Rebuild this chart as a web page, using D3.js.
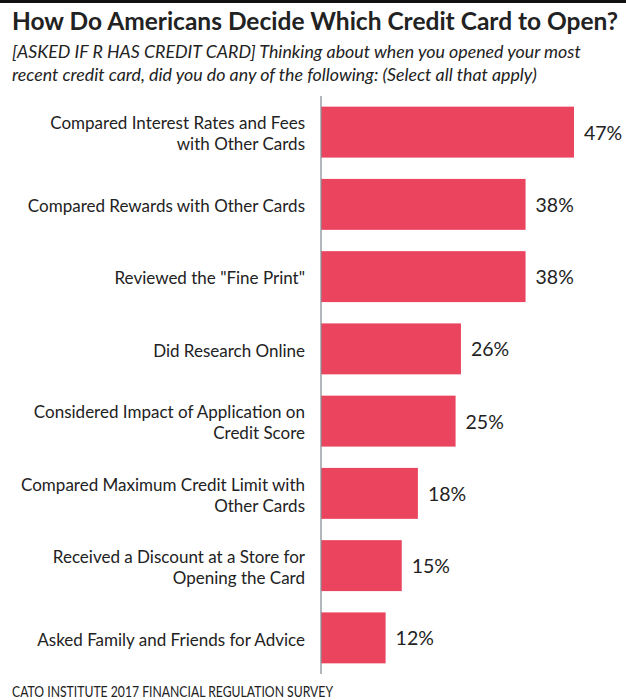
<!DOCTYPE html>
<html>
<head>
<meta charset="utf-8">
<script src="https://cdn.jsdelivr.net/npm/d3@7"></script>
<style>
  body { margin: 0; background: #fff; }
  text { font-family: Lato, "Open Sans", sans-serif; fill: #222; }
</style>
</head>
<body>
<svg id="chart"></svg>
<script>
// data
var categories = [
  ["Compared Interest Rates and Fees", "with Other Cards"],
  ["Compared Rewards with Other Cards"],
  ["Reviewed the \"Fine Print\""],
  ["Did Research Online"],
  ["Considered Impact of Application on", "Credit Score"],
  ["Compared Maximum Credit Limit with", "Other Cards"],
  ["Received a Discount at a Store for", "Opening the Card"],
  ["Asked Family and Friends for Advice"]
]
var values = [47, 38, 38, 26, 25, 18, 15, 12]
var valueLabels = ["47%", "38%", "38%", "26%", "25%", "18%", "15%", "12%"]

var dimensions = {
  width: 626,
  height: 700,
  margin: { top: 96, bottom: 26, left: 321, right: 52 }
}

var svg = d3.select("#chart")
  .attr("width", dimensions.width)
  .attr("height", dimensions.height)

// black rule at the very top
svg.append("rect")
  .attr("x", 0).attr("y", 0)
  .attr("width", dimensions.width).attr("height", 3)
  .attr("fill", "#111")

svg.append("text")
  .attr("x", 12).attr("y", 30)
  .style("font-size", "24.5px")
  .style("font-weight", "bold")
  .text("How Do Americans Decide Which Credit Card to Open?")

var sub = ["[ASKED IF R HAS CREDIT CARD] Thinking about when you opened your most",
           "recent credit card, did you do any of the following: (Select all that apply)"]
sub.forEach(function(s, i) {
  svg.append("text")
    .attr("x", 12).attr("y", 58 + i * 23)
    .style("font-size", "17.8px")
    .style("font-style", "italic")
    .text(s)
})

var y = d3.scaleBand()
  .domain(d3.range(values.length))
  .range([dimensions.margin.top, dimensions.height - dimensions.margin.bottom])
  .paddingInner(0.295)
  .paddingOuter(0.1475)

var x = d3.scaleLinear()
  .domain([0, 47])
  .range([dimensions.margin.left, 574])

svg.selectAll("rect.bar")
  .data(values)
  .enter()
  .append("rect")
  .attr("class", "bar")
  .attr("x", x(0))
  .attr("y", (d, i) => y(i))
  .attr("width", d => x(d) - x(0))
  .attr("height", y.bandwidth())
  .attr("fill", "#ea445f")

svg.append("line")
  .attr("x1", x(0)).attr("x2", x(0))
  .attr("y1", dimensions.margin.top)
  .attr("y2", dimensions.height - dimensions.margin.bottom)
  .attr("stroke", "#8a8f96")
  .attr("stroke-width", 1.3)

// value labels
svg.selectAll("text.val")
  .data(values)
  .enter()
  .append("text")
  .attr("class", "val")
  .attr("x", d => x(d) + 10)
  .attr("y", (d, i) => y(i) + y.bandwidth() / 2)
  .attr("dy", "0.38em")
  .style("font-size", "19.5px")
  .text((d, i) => valueLabels[i])

// category labels
categories.forEach(function(lines, i) {
  var cy = y(i) + y.bandwidth() / 2
  var t = svg.append("text")
    .attr("text-anchor", "end")
    .style("font-size", "17px")
  lines.forEach(function(l, j) {
    t.append("tspan")
      .attr("x", 305)
      .attr("y", cy + (j - (lines.length - 1) / 2) * 21)
      .attr("dy", "0.45em")
      .text(l)
  })
})

svg.append("text")
  .attr("x", 12).attr("y", 697)
  .style("font-size", "14.5px")
  .attr("textLength", 321)
  .attr("lengthAdjust", "spacingAndGlyphs")
  .text("CATO INSTITUTE 2017 FINANCIAL REGULATION SURVEY")
</script>
</body>
</html>
